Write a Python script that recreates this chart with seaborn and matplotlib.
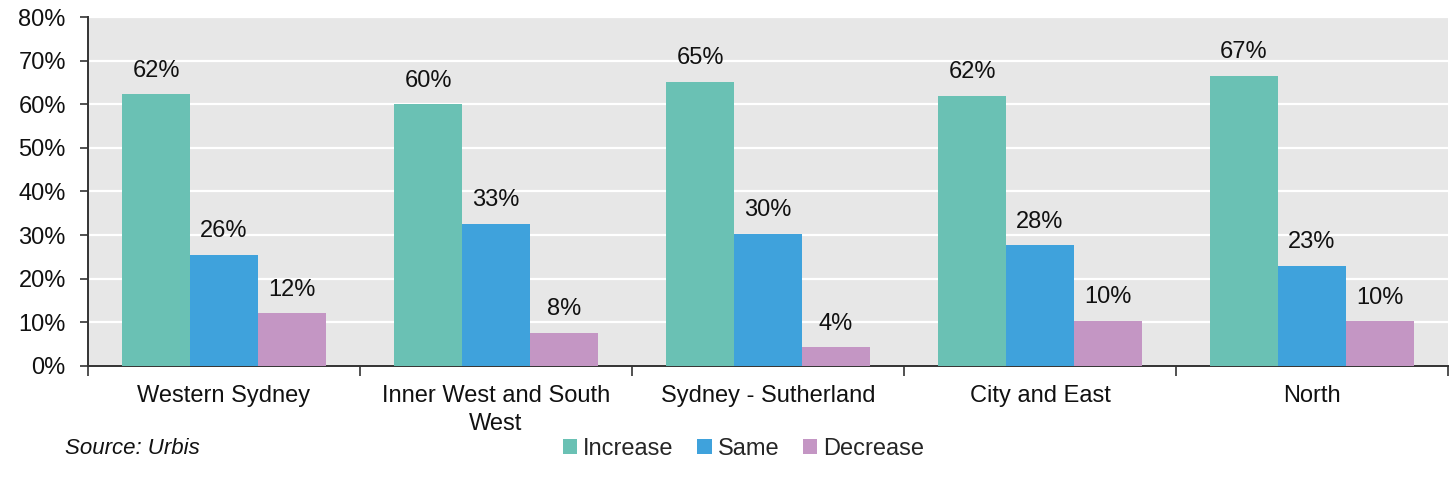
import matplotlib
matplotlib.use("Agg")
import matplotlib.pyplot as plt
import seaborn as sns
import pandas as pd

regions = ["Western Sydney", "Inner West and South\nWest", "Sydney - Sutherland",
           "City and East", "North"]
series = ["Increase", "Same", "Decrease"]
increase = [62.3, 60.0, 65.2, 62.0, 66.6]
same = [25.5, 32.6, 30.3, 27.6, 23.0]
decrease = [12.1, 7.6, 4.2, 10.3, 10.2]
colors = ["#6AC1B4", "#3FA2DC", "#C496C4"]

rows = []
for name, vals in zip(series, [increase, same, decrease]):
    for reg, v in zip(regions, vals):
        rows.append({"Region": reg, "Response": name, "Value": v})
df = pd.DataFrame(rows)

sns.set_theme(style="white")
plt.rcParams["font.family"] = ["Liberation Sans", "DejaVu Sans"]

FS = 17

fig = plt.figure(figsize=(14.55, 4.86), dpi=100)
ax = fig.add_axes([0.0605, 0.2475, 0.9347, 0.717])
ax.set_facecolor("#E7E7E7")

sns.barplot(data=df, x="Region", y="Value", hue="Response", order=regions,
            hue_order=series, palette=colors, width=0.75, gap=0,
            saturation=1, linewidth=0, ax=ax, legend=True, zorder=3)

for cont in ax.containers:
    vals = [b.get_height() for b in cont]
    ax.bar_label(cont, labels=[f"{v:.0f}%" for v in vals], padding=9,
                 fontsize=FS, color="#111111")

ax.set_ylim(0, 80)
ax.set_xlim(-0.5, 4.5)
ax.set_yticks(range(0, 81, 10))
ax.set_yticklabels([f"{t}%" for t in range(0, 81, 10)], fontsize=FS)
ax.yaxis.grid(True, color="white", linewidth=1.6, zorder=0)
ax.set_axisbelow(True)
ax.set_xlabel("")
ax.set_ylabel("")
ax.tick_params(axis="y", left=True, length=6, width=1.2, color="#333333",
               labelcolor="#111111", pad=10)
ax.tick_params(axis="x", which="major", length=0, labelsize=FS,
               labelcolor="#111111", pad=14)
for lbl in ax.get_xticklabels():
    lbl.set_linespacing(1.35)
ax.set_xticks([i + 0.5 for i in range(-1, 5)], minor=True)
ax.tick_params(axis="x", which="minor", bottom=True, length=7, width=1.2,
               color="#333333")

for side in ["top", "right"]:
    ax.spines[side].set_visible(False)
for side in ["left", "bottom"]:
    ax.spines[side].set_color("#333333")
    ax.spines[side].set_linewidth(1.4)

handles, labels = ax.get_legend_handles_labels()
ax.legend_.remove()
fig.legend(handles, labels, loc="center", bbox_to_anchor=(0.511, 0.076),
           ncol=3, frameon=False, fontsize=FS, handlelength=0.6,
           handleheight=0.6, handletextpad=0.25, columnspacing=1.0)

fig.text(0.045, 0.078, "Source: Urbis", fontsize=16, style="italic",
         va="center", ha="left", color="#111111")

fig.savefig("out.png", dpi=100)
